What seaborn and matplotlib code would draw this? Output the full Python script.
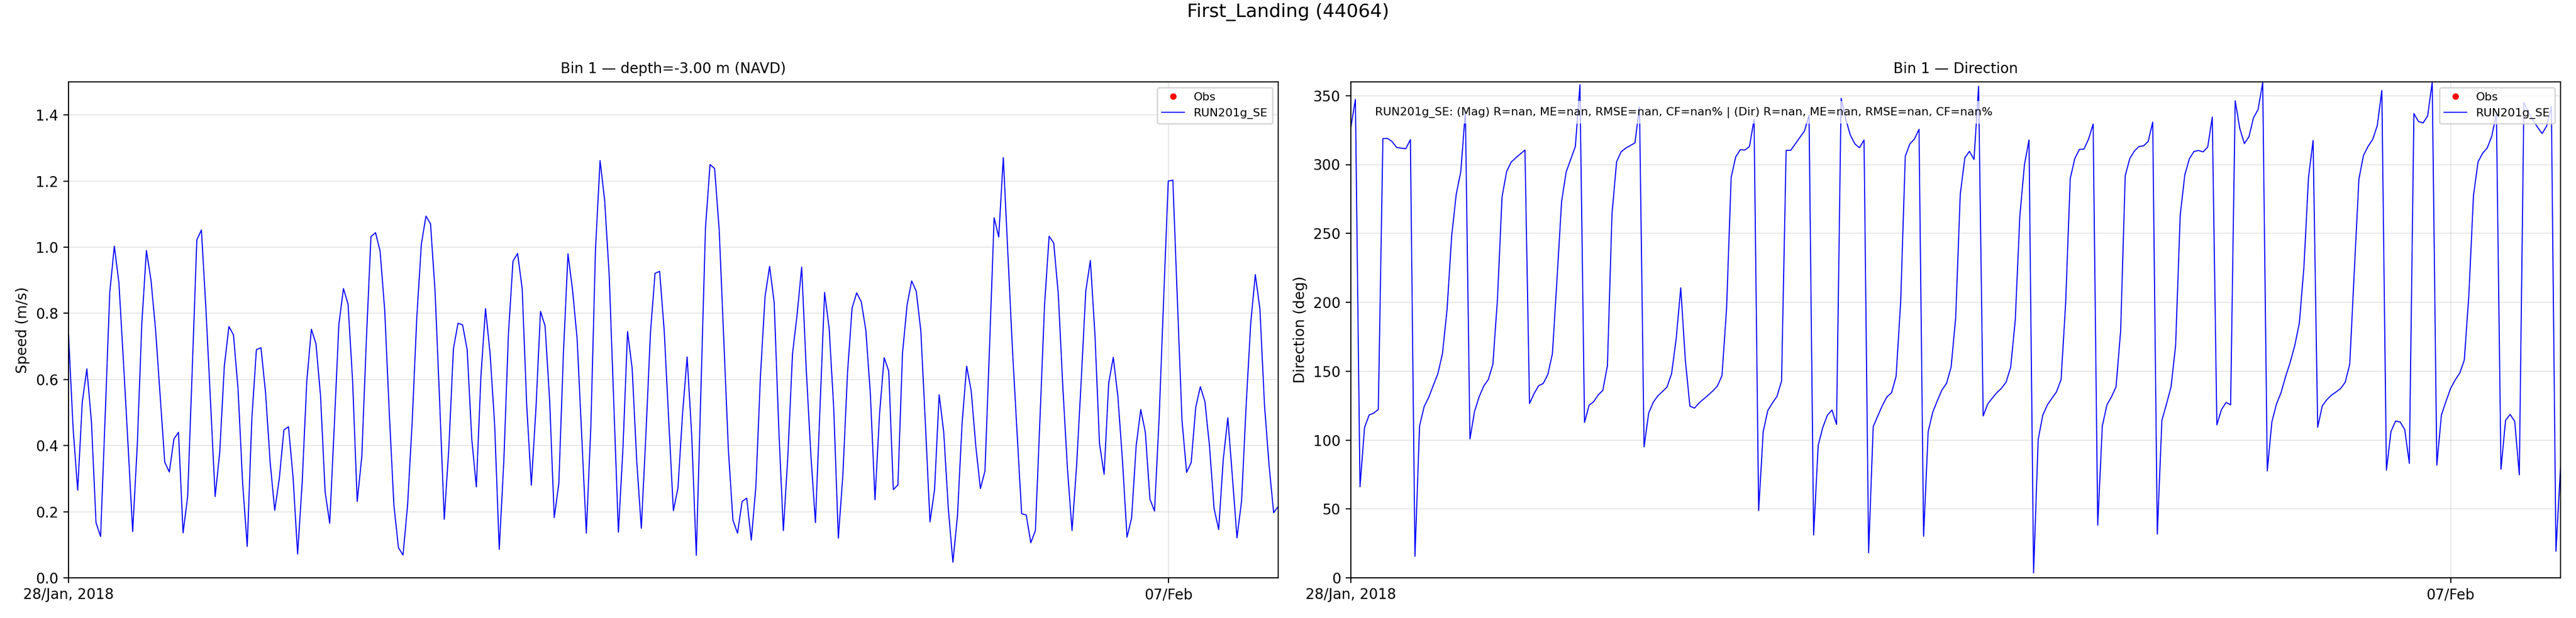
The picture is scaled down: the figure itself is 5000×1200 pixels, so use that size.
import pandas as pd
import matplotlib
matplotlib.use("Agg")
import matplotlib.pyplot as plt
import seaborn as sns

# hourly model output, 28 Jan 2018 00:00 -> 08 Feb 2018 00:00
start = "2018-01-28 00:00"
n_hours = 265

speed = [
    0.737, 0.452, 0.265, 0.531, 0.632, 0.472, 0.167, 0.125, 0.49, 0.863,
    1.003, 0.892, 0.65, 0.40, 0.14, 0.40, 0.77, 0.99, 0.90, 0.75,
    0.55, 0.35, 0.32, 0.42, 0.44, 0.136, 0.246, 0.63, 1.022, 1.052,
    0.81, 0.53, 0.246, 0.38, 0.64, 0.76, 0.735, 0.57, 0.285, 0.095,
    0.48, 0.69, 0.696, 0.56, 0.35, 0.204, 0.30, 0.447, 0.457, 0.305,
    0.072, 0.29, 0.595, 0.752, 0.708, 0.55, 0.26, 0.165, 0.46, 0.767,
    0.875, 0.828, 0.595, 0.231, 0.366, 0.72, 1.032, 1.044, 0.988, 0.81,
    0.50, 0.221, 0.091, 0.069, 0.221, 0.472, 0.786, 1.009, 1.094, 1.071,
    0.865, 0.53, 0.177, 0.393, 0.693, 0.77, 0.765, 0.69, 0.42, 0.275,
    0.61, 0.814, 0.678, 0.462, 0.086, 0.354, 0.737, 0.958, 0.981, 0.875,
    0.52, 0.28, 0.51, 0.806, 0.762, 0.535, 0.182, 0.285, 0.678, 0.98,
    0.87, 0.722, 0.43, 0.135, 0.462, 0.993, 1.262, 1.142, 0.914, 0.526,
    0.138, 0.393, 0.745, 0.634, 0.354, 0.15, 0.432, 0.742, 0.921, 0.927,
    0.747, 0.472, 0.203, 0.272, 0.496, 0.668, 0.432, 0.068, 0.56, 1.057,
    1.25, 1.238, 1.052, 0.72, 0.388, 0.174, 0.135, 0.231, 0.241, 0.114,
    0.275, 0.61, 0.85, 0.942, 0.832, 0.452, 0.143, 0.373, 0.678, 0.796,
    0.94, 0.63, 0.373, 0.167, 0.515, 0.863, 0.754, 0.511, 0.12, 0.314,
    0.62, 0.816, 0.862, 0.835, 0.749, 0.554, 0.236, 0.497, 0.666, 0.625,
    0.267, 0.281, 0.679, 0.825, 0.898, 0.867, 0.747, 0.466, 0.169, 0.267,
    0.554, 0.44, 0.21, 0.047, 0.188, 0.466, 0.64, 0.565, 0.398, 0.27,
    0.323, 0.70, 1.089, 1.031, 1.271, 0.98, 0.69, 0.44, 0.194, 0.19,
    0.106, 0.143, 0.48, 0.825, 1.033, 1.013, 0.858, 0.575, 0.33, 0.143,
    0.34, 0.596, 0.867, 0.96, 0.736, 0.405, 0.313, 0.589, 0.667, 0.549,
    0.356, 0.123, 0.181, 0.40, 0.509, 0.44, 0.238, 0.202, 0.481, 0.846,
    1.20, 1.203, 0.835, 0.476, 0.319, 0.349, 0.516, 0.578, 0.533, 0.398,
    0.21, 0.146, 0.358, 0.484, 0.304, 0.121, 0.233, 0.523, 0.771, 0.917,
    0.813, 0.523, 0.34, 0.197, 0.216,
]

direction = [
    326.8, 347.3, 66.1, 109.2, 118.2, 119.6, 122.2, 318.8, 319.0, 316.7,
    312.4, 311.9, 311.5, 318.1, 15.6, 110.2, 124.3, 131.0, 139.7, 148.2,
    162.8, 194.7, 247.8, 278.4, 294.9, 338.6, 100.8, 120.8, 131.4, 139.2,
    143.9, 155.0, 202.2, 276.5, 294.9, 301.8, 304.9, 307.7, 310.5, 126.5,
    133.8, 139.5, 141.1, 147.7, 162.8, 217.1, 273.2, 294.7, 303.9, 313.1,
    357.9, 112.8, 125.3, 127.9, 132.8, 136.1, 154.1, 264.3, 302.0, 309.3,
    311.9, 313.8, 315.7, 341.9, 95.1, 119.6, 127.4, 132.1, 135.2, 138.5,
    148.2, 173.4, 210.5, 158.1, 124.6, 123.2, 126.9, 129.8, 132.6, 135.7,
    139.2, 146.8, 195.4, 290.7, 305.6, 310.8, 310.5, 313.1, 332.7, 48.8,
    106.2, 121.5, 126.9, 131.7, 142.8, 310.3, 310.3, 315.0, 319.7, 324.4,
    335.8, 31.1, 96.3, 109.2, 118.0, 121.8, 111.4, 348.0, 333.2, 321.4,
    315.0, 312.2, 317.8, 18.2, 109.7, 117.5, 125.1, 131.4, 134.3, 146.3,
    200.6, 306.0, 315.0, 318.5, 325.6, 30.2, 106.2, 120.3, 128.6, 136.4,
    141.1, 152.9, 188.8, 278.4, 304.9, 309.6, 303.7, 356.8, 117.5, 126.2,
    130.5, 134.5, 137.6, 142.0, 152.9, 186.9, 262.4, 299.7, 317.8, 3.5,
    100.3, 118.0, 125.5, 130.3, 135.0, 143.9, 199.4, 289.8, 304.4, 311.0,
    311.2, 318.5, 329.4, 38.2, 110.2, 125.5, 131.4, 138.7, 179.3, 291.9,
    304.4, 309.8, 313.1, 313.6, 316.7, 330.8, 31.8, 114.3, 126.1, 138.6,
    168.9, 263.2, 292.5, 304.2, 309.5, 310.2, 309.2, 312.7, 334.5, 111.1,
    122.1, 127.3, 125.6, 346.3, 326.2, 315.2, 320.2, 334.0, 340.0, 359.5,
    77.6, 113.1, 126.1, 134.4, 146.1, 156.4, 168.6, 184.9, 225.7, 290.7,
    317.5, 109.3, 124.8, 129.3, 132.6, 134.9, 137.4, 141.9, 155.1, 223.2,
    289.5, 306.7, 313.2, 318.2, 328.2, 353.8, 78.1, 106.3, 113.8, 113.1,
    107.6, 83.1, 337.0, 331.2, 330.2, 335.3, 360.0, 81.8, 118.1, 128.1,
    137.4, 143.6, 148.6, 158.1, 205.7, 277.5, 302.0, 308.2, 312.0, 320.7,
    337.0, 78.8, 114.3, 118.6, 113.6, 74.8, 345.0, 338.0, 332.0, 327.0,
    322.5, 328.2, 342.0, 19.3, 80.6,
]

# no observations in this window
obs_time = []
obs_speed = []
obs_dir = []

station = "First_Landing (44064)"
run_name = "RUN201g_SE"
speed_title = "Bin 1 \u2014 depth=-3.00 m (NAVD)"
dir_title = "Bin 1 \u2014 Direction"
stats_text = ("RUN201g_SE: (Mag) R=nan, ME=nan, RMSE=nan, CF=nan% | "
              "(Dir) R=nan, ME=nan, RMSE=nan, CF=nan%")
tick_dates = ["2018-01-28", "2018-02-07"]
tick_labels = ["28/Jan, 2018", "07/Feb"]


def main():
    times = pd.date_range(start, periods=n_hours, freq="h")
    df = pd.DataFrame({"time": times, "speed": speed, "direction": direction})

    fig, axes = plt.subplots(1, 2, figsize=(25, 6), dpi=200)
    fig.subplots_adjust(left=0.0266, right=0.994, bottom=0.065, top=0.8675,
                        wspace=0.06)

    panels = [
        (axes[0], "speed", obs_speed, speed_title, "Speed (m/s)",
         (0, 1.5), [0.0, 0.2, 0.4, 0.6, 0.8, 1.0, 1.2, 1.4]),
        (axes[1], "direction", obs_dir, dir_title, "Direction (deg)",
         (0, 360), [0, 50, 100, 150, 200, 250, 300, 350]),
    ]

    for ax, col, obs, title, ylabel, ylim, yticks in panels:
        ax.plot(obs_time, obs, "o", color="red", ms=3.5, label="Obs")
        sns.lineplot(data=df, x="time", y=col, ax=ax, color="blue",
                     lw=0.75, label=run_name)
        ax.set_xlim(times[0], times[-1])
        ax.set_ylim(*ylim)
        ax.set_yticks(yticks)
        ax.set_xticks(pd.to_datetime(tick_dates))
        ax.set_xticklabels(tick_labels)
        ax.set_title(title, fontsize=10)
        ax.set_xlabel("")
        ax.set_ylabel(ylabel)
        ax.grid(True, alpha=0.3)
        ax.legend(loc="upper right", fontsize=8)

    axes[1].text(0.02, 0.95, stats_text, transform=axes[1].transAxes,
                 fontsize=8, va="top",
                 bbox=dict(facecolor="white", alpha=0.7, edgecolor="none"))

    fig.suptitle(station, fontsize=13, y=0.995, va="top")
    fig.savefig("out.png", dpi=200)


if __name__ == "__main__":
    main()
